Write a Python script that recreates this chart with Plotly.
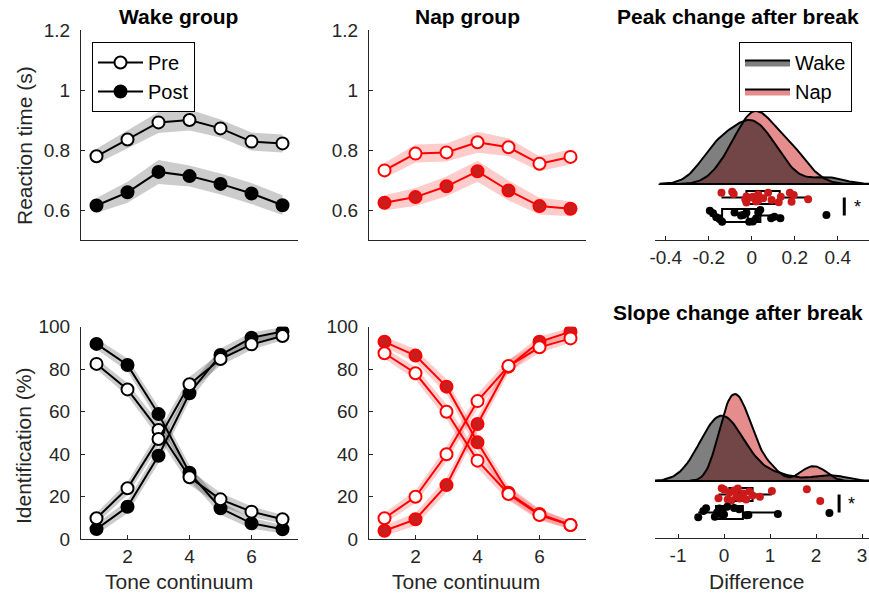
import numpy as np
import plotly.graph_objects as go

FONT = "Liberation Sans, Arial, Helvetica, sans-serif"
W, H = 869, 596

# ---------------- data ----------------
tone = [1, 2, 3, 4, 5, 6, 7]

# Reaction time (s)
wake_rt_pre = [0.779, 0.835, 0.892, 0.900, 0.872, 0.828, 0.822]
wake_rt_post = [0.615, 0.659, 0.727, 0.713, 0.687, 0.655, 0.616]
wake_rt_pre_se = [0.025, 0.030, 0.035, 0.035, 0.030, 0.030, 0.030]
wake_rt_post_se = [0.025, 0.035, 0.040, 0.035, 0.035, 0.035, 0.033]
nap_rt_pre = [0.732, 0.788, 0.792, 0.826, 0.809, 0.754, 0.777]
nap_rt_post = [0.624, 0.643, 0.679, 0.729, 0.665, 0.613, 0.604]
nap_rt_pre_se = [0.025, 0.030, 0.030, 0.035, 0.030, 0.025, 0.025]
nap_rt_post_se = [0.025, 0.030, 0.033, 0.035, 0.033, 0.028, 0.025]

# Identification (%) - two response categories (a: falling, b: rising)
wake_id_pre_a = [82.5, 70.5, 51.4, 29.2, 18.8, 13.0, 9.4]
wake_id_post_a = [91.9, 82.0, 58.9, 31.3, 14.6, 7.5, 4.7]
wake_id_pre_b = [9.9, 24.0, 47.2, 72.9, 84.8, 91.7, 95.6]
wake_id_post_b = [4.8, 15.3, 39.3, 68.7, 86.7, 94.8, 97.7]
nap_id_pre_a = [87.5, 78.1, 60.0, 37.0, 21.3, 11.4, 6.7]
nap_id_post_a = [92.9, 86.4, 71.8, 45.6, 21.9, 11.9, 6.7]
nap_id_pre_b = [9.9, 20.0, 40.0, 65.0, 81.5, 90.3, 94.5]
nap_id_post_b = [4.0, 9.4, 25.5, 54.2, 81.2, 92.9, 97.6]
id_se = [2.5, 3.0, 3.5, 3.5, 3.0, 2.5, 2.0]

# Peak change after break (difference per participant)
peak_wake = [-0.195, -0.18, -0.165, -0.15, -0.138, -0.08, -0.05, -0.04, -0.025,
             -0.012, 0.005, 0.02, 0.03, 0.04, 0.09, 0.105, 0.133, 0.347]
peak_wake_jit = [4.8, 2.2, -1.8, -3.5, -6.2, 3.0, 0.0, 0.5, 2.8,
                 -6.2, -6.0, -3.0, 3.0, 5.5, -2.8, -1.2, -2.8, 0.5]
peak_nap = [-0.141, -0.091, -0.084, -0.03, -0.025, -0.025, 0.0, 0.006, 0.02, 0.029,
            0.03, 0.053, 0.076, 0.092, 0.125, 0.135, 0.177, 0.185, 0.195, 0.262]
peak_nap_jit = [4.8, 5.8, 3.5, -2.0, 1.0, -5.0, 0.0, 0.8, -4.0, -3.2,
                3.0, -0.8, 4.8, -2.5, -4.8, 0.8, 4.8, -4.2, 2.5, -1.8]

# Slope change after break
slope_wake = [-0.56, -0.45, -0.39, -0.2, -0.15, -0.1, -0.07, -0.05, -0.03,
              0.0, 0.07, 0.22, 0.33, 0.49, 0.53, 1.17, 2.29]
slope_wake_jit = [-4.8, 1.5, 4.2, -4.2, 0.0, 4.0, 0.5, -2.0, 3.0,
                  -2.0, 5.8, 4.5, 3.2, -2.8, -2.5, -1.5, -0.5]
slope_nap = [-0.12, -0.05, 0.0, 0.08, 0.116, 0.16, 0.22, 0.27, 0.3,
             0.34, 0.42, 0.48, 0.55, 0.62, 0.78, 1.04, 1.8, 2.09]
slope_nap_jit = [-3.8, 6.2, 5.0, -5.0, 2.0, -6.0, 4.0, -2.0, 6.0,
                 -4.0, 1.0, -5.0, 3.0, -1.0, -2.2, 3.5, 5.2, -6.5]

# kernel bandwidths (smoothing of the density clouds)
bw_peak = {"wake": 0.078, "nap": 0.068}
bw_slope = {"wake": 0.36, "nap": 0.21}

# ---------------- styles ----------------
BLACK = "#000000"
RED = "#ff0000"
RED_DARK = "#c81e1e"
GRAY_BAND = "rgba(0,0,0,0.2)"
RED_BAND = "rgba(255,0,0,0.2)"
WAKE_FILL = "rgba(0,0,0,0.5)"
NAP_FILL = "rgba(204,26,26,0.5)"
PT_RED = "rgb(204,26,26)"
AXC = "#262626"

fig = go.Figure()


def band(x, y, se, color, xa, ya):
    up = [a + b for a, b in zip(y, se)]
    lo = [a - b for a, b in zip(y, se)]
    fig.add_trace(go.Scatter(x=list(x) + list(x)[::-1], y=up + lo[::-1], fill="toself",
                             fillcolor=color, line=dict(width=0), mode="lines",
                             showlegend=False, hoverinfo="skip", xaxis=xa, yaxis=ya))


def curve(x, y, lc, face, xa, ya, name=None, rank=None):
    fig.add_trace(go.Scatter(
        x=x, y=y, mode="lines+markers", line=dict(color=lc, width=2),
        marker=dict(size=12, color=face, line=dict(color=lc, width=2), symbol="circle"),
        showlegend=name is not None, name=name or "", legend="legend",
        legendrank=rank if rank else 1000, xaxis=xa, yaxis=ya))


# --- top left: wake RT ---
band(tone, wake_rt_post, wake_rt_post_se, GRAY_BAND, "x", "y")
band(tone, wake_rt_pre, wake_rt_pre_se, GRAY_BAND, "x", "y")
curve(tone, wake_rt_post, BLACK, BLACK, "x", "y", name="Post", rank=2)
curve(tone, wake_rt_pre, BLACK, "white", "x", "y", name="Pre", rank=1)

# --- top middle: nap RT ---
band(tone, nap_rt_post, nap_rt_post_se, RED_BAND, "x2", "y2")
band(tone, nap_rt_pre, nap_rt_pre_se, RED_BAND, "x2", "y2")
curve(tone, nap_rt_post, RED, RED_DARK, "x2", "y2")
curve(tone, nap_rt_pre, RED, "white", "x2", "y2")

# --- bottom left: wake identification ---
for arr in (wake_id_post_a, wake_id_post_b, wake_id_pre_a, wake_id_pre_b):
    band(tone, arr, id_se, GRAY_BAND, "x4", "y4")
curve(tone, wake_id_post_a, BLACK, BLACK, "x4", "y4")
curve(tone, wake_id_post_b, BLACK, BLACK, "x4", "y4")
curve(tone, wake_id_pre_a, BLACK, "white", "x4", "y4")
curve(tone, wake_id_pre_b, BLACK, "white", "x4", "y4")

# --- bottom middle: nap identification ---
for arr in (nap_id_post_a, nap_id_post_b, nap_id_pre_a, nap_id_pre_b):
    band(tone, arr, id_se, RED_BAND, "x5", "y5")
curve(tone, nap_id_post_a, RED, RED_DARK, "x5", "y5")
curve(tone, nap_id_post_b, RED, RED_DARK, "x5", "y5")
curve(tone, nap_id_pre_a, RED, "white", "x5", "y5")
curve(tone, nap_id_pre_b, RED, "white", "x5", "y5")


# --- raincloud panels ---
def ksd(x, h, n=120):
    x = np.asarray(x, dtype=float)
    grid = np.linspace(x.min() - 3 * h, x.max() + 3 * h, n)
    pdf = np.exp(-0.5 * ((grid[:, None] - x[None, :]) / h) ** 2).sum(1) / (len(x) * h * np.sqrt(2 * np.pi))
    return grid, pdf


def raincloud(wake, wake_jit, nap, nap_jit, bw, xa, ya, peak_height, legend):
    gw, pw = ksd(wake, bw["wake"])
    gn, pn = ksd(nap, bw["nap"])
    k = peak_height / max(pw.max(), pn.max())
    for g, p, col, nm, rk in ((gn, pn, NAP_FILL, "Nap", 2), (gw, pw, WAKE_FILL, "Wake", 1)):
        xs = list(g) + [g[-1], g[0], g[0]]
        ys = list(p * k) + [0, 0, p[0] * k]
        fig.add_trace(go.Scatter(x=xs, y=ys, fill="toself", fillcolor=col, mode="lines",
                                 line=dict(color="black", width=2), name=nm,
                                 showlegend=legend, legend="legend2", legendrank=rk,
                                 xaxis=xa, yaxis=ya, hoverinfo="skip"))
    c_nap, c_wake, bh = -13.5, -31.5, 13
    fig.add_trace(go.Scatter(x=nap, y=[c_nap + j for j in nap_jit], mode="markers",
                             marker=dict(size=8, color=PT_RED), showlegend=False,
                             xaxis=xa, yaxis=ya))
    fig.add_trace(go.Scatter(x=wake, y=[c_wake + j for j in wake_jit], mode="markers",
                             marker=dict(size=8, color="black"), showlegend=False,
                             xaxis=xa, yaxis=ya))
    for d, c in ((nap, c_nap), (wake, c_wake)):
        fig.add_trace(go.Box(x=d, y0=c, orientation="h", width=bh, boxpoints="outliers",
                             marker=dict(opacity=0, size=1),
                             whiskerwidth=0, quartilemethod="exclusive",
                             fillcolor="rgba(0,0,0,0)", line=dict(color="black", width=2),
                             showlegend=False, xaxis=xa, yaxis=ya, hoverinfo="skip"))
    return c_nap, c_wake


cn, cw = raincloud(peak_wake, peak_wake_jit, peak_nap, peak_nap_jit, bw_peak, "x3", "y3", 73, True)
fig.add_shape(type="line", xref="x3", yref="y3", x0=0.43, x1=0.43, y0=cn, y1=cw,
              line=dict(color="black", width=3))
fig.add_annotation(xref="x3", yref="y3", x=0.49, y=(cn + cw) / 2, text="*", showarrow=False,
                   font=dict(size=18, color="black", family=FONT))

cn, cw = raincloud(slope_wake, slope_wake_jit, slope_nap, slope_nap_jit, bw_slope, "x6", "y6", 87, False)
fig.add_shape(type="line", xref="x6", yref="y6", x0=2.5, x1=2.5, y0=cn, y1=cw,
              line=dict(color="black", width=3))
fig.add_annotation(xref="x6", yref="y6", x=2.78, y=(cn + cw) / 2, text="*", showarrow=False,
                   font=dict(size=18, color="black", family=FONT))


# ---------------- layout ----------------
def px_x(p):
    return p / W


def px_y(p):
    return 1 - p / H


base = dict(showline=True, linecolor=AXC, linewidth=1, ticks="inside", ticklen=4,
            tickcolor=AXC, showgrid=False, zeroline=False, automargin=False,
            tickfont=dict(size=19, color=AXC, family=FONT))

colL = [px_x(81), px_x(298)]
colM = [px_x(369), px_x(586)]
colR = [px_x(655), 1.0]
rowT = [px_y(240), px_y(30)]
rowB = [px_y(539.3), px_y(326.7)]
rowBR = [px_y(538), px_y(325)]

rt_ticks = [0.6, 0.8, 1.0, 1.2]
rt_text = ["0.6", "0.8", "1", "1.2"]
id_ticks = [0, 20, 40, 60, 80, 100]
tone_ticks = [2, 4, 6]
peak_ticks = [-0.4, -0.2, 0, 0.2, 0.4]
peak_text = ["-0.4", "-0.2", "0", "0.2", "0.4"]
slope_ticks = [-1, 0, 1, 2, 3]
slope_text = ["-1", "0", "1", "2", "3"]

layout = dict(
    width=W, height=H, margin=dict(l=0, r=0, t=0, b=0),
    plot_bgcolor="white", paper_bgcolor="white",
    font=dict(family=FONT, size=19, color=AXC),
    xaxis=dict(base, domain=colL, range=[0.5, 7.5], anchor="y", showticklabels=False, ticks=""),
    yaxis=dict(base, domain=rowT, range=[0.5, 1.2], anchor="x", tickvals=rt_ticks, ticktext=rt_text,
               ticklabelstandoff=6),
    xaxis2=dict(base, domain=colM, range=[0.5, 7.5], anchor="y2", showticklabels=False, ticks=""),
    yaxis2=dict(base, domain=rowT, range=[0.5, 1.2], anchor="x2", tickvals=rt_ticks, ticktext=rt_text,
                ticklabelstandoff=6),
    xaxis3=dict(base, domain=colR, range=[-0.45, 0.545], anchor="y3", tickvals=peak_ticks,
                ticktext=peak_text),
    yaxis3=dict(domain=rowT, range=[-56, 154], anchor="x3", visible=False, fixedrange=True),
    xaxis4=dict(base, domain=colL, range=[0.5, 7.5], anchor="y4", tickvals=tone_ticks),
    yaxis4=dict(base, domain=rowB, range=[0, 100], anchor="x4", tickvals=id_ticks, ticklabelstandoff=6),
    xaxis5=dict(base, domain=colM, range=[0.5, 7.5], anchor="y5", tickvals=tone_ticks),
    yaxis5=dict(base, domain=rowB, range=[0, 100], anchor="x5", tickvals=id_ticks, ticklabelstandoff=6),
    xaxis6=dict(base, domain=colR, range=[-1.5, 3.15], anchor="y6", tickvals=slope_ticks,
                ticktext=slope_text),
    yaxis6=dict(domain=rowBR, range=[-57, 156], anchor="x6", visible=False, fixedrange=True),
    legend=dict(x=px_x(92), y=px_y(42), xanchor="left", yanchor="top", bgcolor="white",
                bordercolor="black", borderwidth=1, font=dict(size=20, color="black", family=FONT),
                itemwidth=45, tracegroupgap=0, traceorder="normal"),
    legend2=dict(x=px_x(739), y=px_y(42), xanchor="left", yanchor="top", bgcolor="white",
                 bordercolor="black", borderwidth=1, font=dict(size=20, color="black", family=FONT),
                 itemwidth=45, tracegroupgap=0, traceorder="normal"),
)
fig.update_layout(**layout)

# titles & axis labels
titles = [("Wake group", 178, 17), ("Nap group", 467, 17),
          ("Peak change after break", 738, 17), ("Slope change after break", 738, 312)]
for t, x, y in titles:
    fig.add_annotation(xref="paper", yref="paper", x=px_x(x), y=px_y(y), text="<b>%s</b>" % t,
                       showarrow=False, xanchor="center", yanchor="middle",
                       font=dict(size=21, color="black", family=FONT))

labels = [("Tone continuum", 179, 581, 0), ("Tone continuum", 466, 581, 0),
          ("Difference", 756, 581, 0), ("Reaction time (s)", 24, 146, -90),
          ("Identification (%)", 23, 446, -90)]
for t, x, y, ang in labels:
    fig.add_annotation(xref="paper", yref="paper", x=px_x(x), y=px_y(y), text=t,
                       showarrow=False, xanchor="center", yanchor="middle", textangle=ang,
                       font=dict(size=21, color=AXC, family=FONT))

fig.write_html("out.html")
